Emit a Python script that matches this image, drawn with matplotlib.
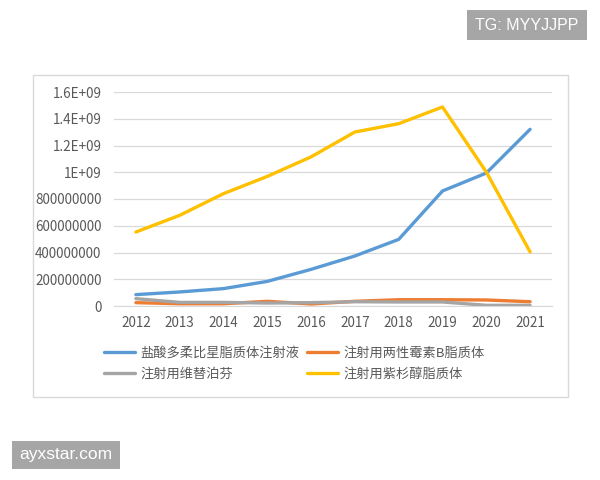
import matplotlib
matplotlib.use("Agg")
import matplotlib.pyplot as plt
from matplotlib.patches import Rectangle
from matplotlib.ticker import FuncFormatter

plt.rcParams["font.family"] = ["Noto Sans CJK SC", "DejaVu Sans"]

# ── Data ───────────────────────────────────────────────
years = ["2012", "2013", "2014", "2015", "2016", "2017", "2018", "2019", "2020", "2021"]
series_names = ["盐酸多柔比星脂质体注射液", "注射用两性霉素B脂质体",
                "注射用维替泊芬", "注射用紫杉醇脂质体"]
doxorubicin = [85e6, 105e6, 130e6, 184e6, 274e6, 374e6, 498e6, 860e6, 994e6, 1321e6]
amphotericin = [25e6, 17e6, 17e6, 35e6, 15e6, 35e6, 47e6, 47e6, 45e6, 32e6]
verteporfin = [55e6, 27e6, 27e6, 22e6, 25e6, 32e6, 30e6, 30e6, 5e6, 5e6]
paclitaxel = [553e6, 678e6, 840e6, 969e6, 1115e6, 1301e6, 1363e6, 1488e6, 1002e6, 404e6]
y_ticks = [0, 2e8, 4e8, 6e8, 8e8, 1e9, 1.2e9, 1.4e9, 1.6e9]

colors = ["#5B9BD5", "#ED7D31", "#A5A5A5", "#FFC000"]

# ── Figure ─────────────────────────────────────────────
fig = plt.figure(figsize=(6, 4.8), dpi=100)

# chart frame
fig.patches.append(Rectangle((33 / 600, 1 - 397 / 480), 535 / 600, 322 / 480,
                             transform=fig.transFigure, facecolor="white",
                             edgecolor="#D9D9D9", linewidth=1, zorder=-5))

ax = fig.add_axes([114 / 600, 1 - 306 / 480, 438 / 600, 214 / 480])
ax.set_facecolor("none")
ax.set_zorder(2)

x = list(range(len(years)))
lines = []
for vals, name, c in zip([doxorubicin, amphotericin, verteporfin, paclitaxel],
                         series_names, colors):
    ln, = ax.plot(x, vals, color=c, linewidth=2.4, label=name, solid_capstyle="round")
    lines.append(ln)

ax.set_xlim(-0.5, len(years) - 0.5)
ax.set_ylim(0, 1.6e9)
ax.set_xticks(x)
ax.set_xticklabels(years)
ax.set_yticks(y_ticks)


def fmt(v, pos):
    if v == 0:
        return "0"
    if v < 1e9:
        return f"{int(v)}"
    s = f"{v / 1e9:g}"
    return f"{s}E+09"


ax.yaxis.set_major_formatter(FuncFormatter(fmt))
ax.grid(axis="y", color="#D9D9D9", linewidth=0.9)
ax.set_axisbelow(True)
for s in ["top", "right", "left"]:
    ax.spines[s].set_visible(False)
ax.spines["bottom"].set_color("#D9D9D9")
ax.tick_params(axis="both", length=0, labelsize=9.7, colors="#595959")
ax.tick_params(axis="x", pad=7)
ax.tick_params(axis="y", pad=9)

# Excel fills legend row by row -> reorder for column-wise matplotlib
order = [0, 2, 1, 3]
leg = fig.legend([lines[i] for i in order], [series_names[i] for i in order],
                 loc="center left", bbox_to_anchor=(104 / 600, 1 - 364 / 480),
                 ncol=2, frameon=False, fontsize=9.5, handlelength=2.35,
                 handletextpad=0.38, columnspacing=0.6, labelspacing=0.6,
                 borderpad=0, borderaxespad=0)
for t in leg.get_texts():
    t.set_color("#595959")

# ── Watermarks ─────────────────────────────────────────
fig.text(527 / 600, 1 - 25 / 480, "TG: MYYJJPP", ha="center", va="center",
         color="white", fontsize=11.5, family="Liberation Sans",
         bbox=dict(boxstyle="square,pad=0.5", facecolor="#A6A6A6", edgecolor="none"))
fig.text(66 / 600, 1 - 455 / 480, "ayxstar.com", ha="center", va="center",
         color="white", fontsize=12.5, family="Liberation Sans",
         bbox=dict(boxstyle="square,pad=0.4", facecolor="#A6A6A6", edgecolor="none"))

fig.savefig("out.png", dpi=100)
